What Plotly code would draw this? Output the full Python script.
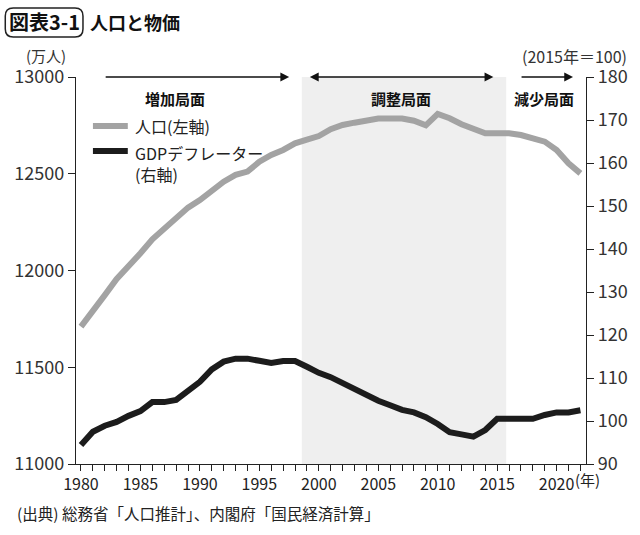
import plotly.graph_objects as go

years = list(range(1980, 2023))
population = [11710, 11786, 11873, 11956, 12020, 12089, 12161, 12218, 12270, 12325,
              12364, 12416, 12459, 12494, 12511, 12562, 12597, 12623, 12657, 12676,
              12695, 12730, 12752, 12764, 12774, 12785, 12785, 12785, 12774, 12750,
              12809, 12787, 12756, 12730, 12709, 12709, 12709, 12700, 12680, 12666,
              12623, 12554, 12502]
deflator = [94.4, 97.5, 98.9, 99.8, 101.2, 102.3, 104.4, 104.4, 104.9, 106.8,
            109.1, 112.0, 113.8, 114.5, 114.5, 114.0, 113.5, 113.95, 113.95, 112.6,
            111.2, 110.2, 108.8, 107.2, 105.8, 104.7, 103.65, 102.6, 102.0, 100.9,
            99.3, 97.4, 96.9, 96.35, 97.9, 100.5, 100.5, 100.5, 100.5, 101.4,
            102.0, 102.0, 102.5]
x_ticks = [1980, 1985, 1990, 1995, 2000, 2005, 2010, 2015, 2020]
left_ticks = [11000, 11500, 12000, 12500, 13000]
right_ticks = [90, 100, 110, 120, 130, 140, 150, 160, 170, 180]
phase_labels = ["増加局面", "調整局面", "減少局面"]
adjust_span = [1998.57, 2015.76]

FONT = "Noto Sans CJK JP"
W, H = 640, 535
L, R, T, B = 76, 588, 77, 464


def px(p):
    return (p - L) / (R - L)


def py(p):
    return (B - p) / (B - T)


fig = go.Figure()
fig.add_trace(go.Scatter(x=years, y=population, mode="lines",
                         line=dict(color="#a3a3a3", width=6), yaxis="y", showlegend=False))
fig.add_trace(go.Scatter(x=years, y=deflator, mode="lines",
                         line=dict(color="#1c1c1c", width=6), yaxis="y2", showlegend=False))

shapes = []
shapes.append(dict(type="rect", xref="x", yref="paper", x0=adjust_span[0], x1=adjust_span[1],
                   y0=0, y1=1, fillcolor="#efefef", line=dict(width=0), layer="below"))
shapes.append(dict(type="line", xref="paper", yref="paper", x0=px(93), x1=px(128),
                   y0=py(126), y1=py(126), line=dict(color="#a3a3a3", width=6)))
shapes.append(dict(type="line", xref="paper", yref="paper", x0=px(93), x1=px(128),
                   y0=py(151), y1=py(151), line=dict(color="#1c1c1c", width=6)))
x0, x1, y0, y1, r = 5, 83, 8, 37, 8
path = (f"M {px(x0 + r)} {py(y0)} L {px(x1 - r)} {py(y0)} "
        f"Q {px(x1)} {py(y0)} {px(x1)} {py(y0 + r)} L {px(x1)} {py(y1 - r)} "
        f"Q {px(x1)} {py(y1)} {px(x1 - r)} {py(y1)} L {px(x0 + r)} {py(y1)} "
        f"Q {px(x0)} {py(y1)} {px(x0)} {py(y1 - r)} L {px(x0)} {py(y0 + r)} "
        f"Q {px(x0)} {py(y0)} {px(x0 + r)} {py(y0)} Z")
shapes.append(dict(type="path", xref="paper", yref="paper", path=path,
                   line=dict(color="#222", width=1.5)))

ann = []


def text(x, y, s, size=16, xanchor="left", yanchor="middle", bold=False, color="#222"):
    ann.append(dict(x=px(x), y=py(y), xref="paper", yref="paper", text=f"<b>{s}</b>" if bold else s,
                    showarrow=False, xanchor=xanchor, yanchor=yanchor, borderpad=0, align="left",
                    font=dict(family=FONT, size=size, color=color)))


def arrow(xh, xt, y, both=False):
    ann.append(dict(x=px(xh), y=py(y), xref="paper", yref="paper", ax=xt - xh, ay=0,
                    text="", showarrow=True, arrowhead=2, arrowsize=1.1, arrowwidth=1.6,
                    arrowcolor="#111", arrowside="end+start" if both else "end",
                    startarrowhead=2, startarrowsize=1.1))


text(44, 22, "図表3-1", size=20, xanchor="center", bold=True, color="#111")
text(89, 22, "人口と物価", size=18, bold=True, color="#111")
text(46, 56, "(万人)", size=15, xanchor="center", color="#333")
text(576, 56, "(2015年＝100)", size=16, xanchor="center", color="#333")
arrow(290, 105, 77)
arrow(495, 310, 77, both=True)
arrow(575, 522, 77)
text(175, 99, phase_labels[0], size=15, xanchor="center", bold=True, color="#111")
text(402, 99, phase_labels[1], size=15, xanchor="center", bold=True, color="#111")
text(546, 99, phase_labels[2], size=15, xanchor="center", bold=True, color="#111")
text(134, 126, "人口(左軸)", size=16, color="#222")
text(134, 140, "GDPデフレーター<br>(右軸)", size=16, yanchor="top", color="#222")
text(576, 480, "(年)", size=15, color="#222")
text(16, 513, "(出典) 総務省「人口推計」、内閣府「国民経済計算」", size=15.5, color="#222")

fig.update_layout(
    width=W, height=H,
    margin=dict(l=L, r=W - R, t=T, b=H - B),
    paper_bgcolor="white", plot_bgcolor="white",
    font=dict(family=FONT, color="#222"),
    showlegend=False,
    shapes=shapes, annotations=ann,
    xaxis=dict(range=[1979.58, 2022.47], tickvals=x_ticks, ticks="outside", ticklen=6,
               tickwidth=1, tickcolor="#222", showline=True, linecolor="#222", linewidth=1.2,
               showgrid=False, zeroline=False, tickfont=dict(size=16, color="#222"),
               minor=dict(dtick=1, tick0=1980, ticks="outside", ticklen=6, tickcolor="#222",
                          showgrid=False)),
    yaxis=dict(range=[11000, 13000], tickvals=left_ticks, tickformat="d", ticks="outside",
               ticklen=7, tickcolor="#222", showline=True, linecolor="#222", linewidth=1.2,
               showgrid=False, zeroline=False, tickfont=dict(size=18, color="#333")),
    yaxis2=dict(range=[90, 180], tickvals=right_ticks, tickformat="d", overlaying="y",
                side="right", ticks="outside", ticklen=7, tickcolor="#222", showline=True,
                linecolor="#222", linewidth=1.2, showgrid=False, zeroline=False,
                tickfont=dict(size=18, color="#333")),
)

fig.write_html("out.html", config={"displayModeBar": False},
               post_script="document.body.style.margin='0';document.body.style.padding='0';")
